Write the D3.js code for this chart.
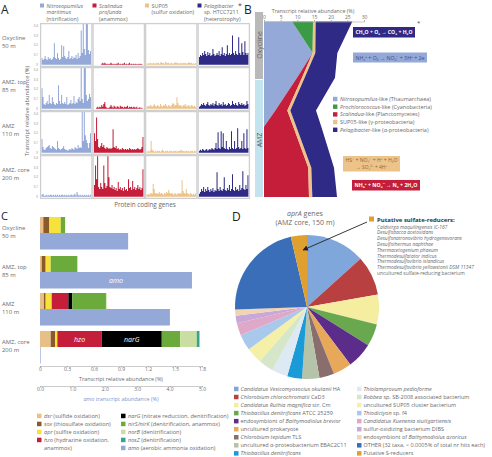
<!DOCTYPE html>
<html><head><meta charset="utf-8">
<script src="https://cdn.jsdelivr.net/npm/d3@7"></script>
<style>body{margin:0;background:#fff}svg{display:block}text{font-family:"Open Sans",sans-serif}</style>
</head><body><svg id="c" width="492" height="457"></svg>
<script>
// ---------------- DATA ----------------
// Panel A
const aSpecies = ["Nitrosopumilus", "Scalindua", "SUP05", "Pelagibacter"];
const aHeaders = [
  ["Nitrosopumilus", "maritimus", "(nitrification)"],
  ["Scalindua", "profunda", "(anammox)"],
  ["SUP05", "(sulfur oxidation)"],
  ["Pelagibacter", "sp. HTCC7211", "(heterotrophy)"]
];
const aDepths = [["Oxycline", "50 m"], ["AMZ, top", "85 m"], ["AMZ", "110 m"], ["AMZ, core", "200 m"]];
const aTicks = [0, 0.1, 0.2, 0.3, 0.4];
const aNitro = [
  [0.07,0.05,0.06,0.09,0.06,0.05,0.08,0.06,0.07,0.05,0.06,0.08,0.22,0.07,0.06,0.12,0.07,0.05,0.06,0.2,0.08,0.19,0.09,0.07,0.06,0.08,0.14,0.06,0.07,0.09,0.06,0.08,0.07,0.1,0.06,0.12,0.07,0.09,0.35,0.12,0.42,0.16,0.1,0.42,0.42,0.15,0.11,0.14],
  [0.21,0.12,0.05,0.04,0.06,0.08,0.05,0.14,0.06,0.05,0.12,0.07,0.05,0.04,0.06,0.05,0.24,0.08,0.05,0.14,0.06,0.05,0.07,0.05,0.12,0.04,0.05,0.06,0.09,0.05,0.06,0.13,0.05,0.07,0.06,0.1,0.12,0.08,0.42,0.1,0.06,0.42,0.42,0.14,0.08,0.1,0.15,0.12],
  [0.14,0.06,0.03,0.03,0.05,0.06,0.07,0.08,0.05,0.04,0.07,0.06,0.05,0.04,0.03,0.12,0.05,0.04,0.03,0.04,0.05,0.07,0.04,0.03,0.03,0.02,0.03,0.04,0.03,0.05,0.04,0.03,0.06,0.05,0.04,0.08,0.05,0.06,0.05,0.42,0.12,0.44,0.18,0.13,0.1,0.05,0.1,0.2],
  [0.02,0.03,0.01,0.01,0.02,0.01,0.02,0.01,0.02,0.02,0.01,0.02,0.01,0.02,0.01,0.02,0.01,0.02,0.01,0.02,0.02,0.01,0.02,0.01,0.02,0.01,0.02,0.01,0.02,0.02,0.01,0.02,0.03,0.01,0.05,0.02,0.01,0.02,0.01,0.02,0.01,0.02,0.01,0.02,0.01,0.02,0.01,0.02]
];
const aScal = [
  [0,0,0,0,0,0,0,0.01,0.02,0.01,0.02,0.01,0.005,0.01,0.005,0.01,0.02,0.01,0.005,0.01,0.005,0.01,0.01,0.02,0.005,0.01,0.005,0.01,0.01,0.02,0.005,0.01,0.005,0.01,0.02,0.005,0.01,0.005,0.01,0.005,0.01,0.005,0.005,0.01,0.005,0.01,0.005,0],
  [0,0,0.01,0.02,0.01,0.02,0.015,0.04,0.02,0.05,0.07,0.02,0.01,0.005,0.01,0.02,0.04,0.02,0.01,0.03,0.02,0.01,0.025,0.02,0.01,0.03,0.02,0.02,0.01,0.02,0.015,0.02,0.03,0.01,0.02,0.015,0.02,0.01,0.02,0.015,0.01,0.02,0.005,0.01,0.015,0.005,0.01,0],
  [0.2,0.12,0.36,0.14,0.06,0.05,0.07,0.1,0.06,0.08,0.05,0.04,0.06,0.05,0.04,0.05,0.04,0.05,0.24,0.06,0.05,0.07,0.04,0.05,0.03,0.04,0.03,0.05,0.04,0.03,0.04,0.03,0.04,0.03,0.05,0.04,0.03,0.04,0.03,0.04,0.03,0.04,0.05,0.04,0.03,0.04,0.06,0.16],
  [0.12,0.32,0.18,0.42,0.1,0.08,0.14,0.1,0.08,0.32,0.14,0.09,0.11,0.42,0.2,0.1,0.09,0.12,0.08,0.1,0.07,0.09,0.06,0.15,0.08,0.1,0.07,0.09,0.06,0.1,0.07,0.08,0.06,0.18,0.09,0.1,0.07,0.16,0.08,0.1,0.07,0.09,0.12,0.08,0.1,0.07,0.09,0.28]
];
const aSup05 = [
  [0.01,0.015,0.01,0.02,0.015,0.01,0.02,0.015,0.01,0.02,0.015,0.02,0.01,0.02,0.025,0.015,0.02,0.01,0.03,0.02,0.015,0.02,0.01,0.015,0.02,0.01,0.015,0.02,0.025,0.015,0.02,0.01,0.015,0.02,0.01,0.02,0.015,0.02,0.01,0.015,0.02,0.025,0.015,0.02,0.01,0.015,0.01,0.015],
  [0.02,0.03,0.02,0.04,0.03,0.02,0.03,0.05,0.03,0.02,0.04,0.03,0.02,0.05,0.03,0.02,0.04,0.03,0.05,0.03,0.02,0.04,0.03,0.02,0.04,0.06,0.05,0.03,0.04,0.12,0.06,0.03,0.04,0.03,0.02,0.04,0.03,0.05,0.03,0.02,0.04,0.03,0.02,0.04,0.03,0.02,0.03,0.02],
  [0.01,0.02,0.01,0.02,0.12,0.03,0.02,0.01,0.02,0.01,0.02,0.015,0.02,0.01,0.02,0.03,0.02,0.01,0.02,0.015,0.02,0.01,0.02,0.015,0.02,0.01,0.02,0.015,0.02,0.01,0.02,0.015,0.02,0.03,0.02,0.015,0.02,0.01,0.02,0.015,0.02,0.01,0.02,0.015,0.02,0.01,0.02,0.015],
  [0.02,0.03,0.02,0.03,0.04,0.03,0.13,0.08,0.04,0.03,0.04,0.03,0.05,0.03,0.04,0.03,0.02,0.04,0.03,0.05,0.04,0.07,0.04,0.03,0.04,0.03,0.02,0.04,0.03,0.02,0.04,0.03,0.04,0.03,0.17,0.06,0.04,0.03,0.08,0.04,0.03,0.02,0.04,0.03,0.02,0.03,0.02,0.03]
];
const aPelag = [
  [0.08,0.1,0.09,0.12,0.1,0.14,0.11,0.09,0.13,0.1,0.12,0.09,0.1,0.16,0.11,0.09,0.1,0.12,0.1,0.14,0.09,0.11,0.18,0.1,0.12,0.09,0.11,0.2,0.1,0.12,0.1,0.11,0.3,0.12,0.1,0.14,0.11,0.1,0.28,0.12,0.1,0.22,0.13,0.1,0.24,0.12,0.1,0.12],
  [0.02,0.03,0.05,0.04,0.06,0.04,0.03,0.05,0.07,0.04,0.03,0.05,0.04,0.06,0.03,0.05,0.08,0.04,0.03,0.06,0.04,0.05,0.03,0.07,0.04,0.05,0.03,0.04,0.06,0.05,0.03,0.04,0.08,0.05,0.04,0.06,0.04,0.03,0.07,0.05,0.04,0.06,0.04,0.05,0.03,0.04,0.08,0.05],
  [0.02,0.03,0.02,0.04,0.03,0.02,0.03,0.04,0.02,0.03,0.04,0.03,0.05,0.04,0.03,0.05,0.1,0.04,0.21,0.05,0.04,0.22,0.06,0.2,0.05,0.04,0.12,0.04,0.03,0.06,0.04,0.22,0.05,0.04,0.12,0.04,0.05,0.25,0.06,0.04,0.05,0.12,0.04,0.2,0.05,0.04,0.24,0.05],
  [0.03,0.05,0.08,0.06,0.1,0.05,0.08,0.06,0.1,0.07,0.05,0.08,0.06,0.09,0.05,0.07,0.06,0.25,0.08,0.06,0.1,0.07,0.06,0.08,0.2,0.07,0.06,0.09,0.07,0.12,0.06,0.08,0.23,0.07,0.06,0.1,0.07,0.08,0.06,0.12,0.07,0.09,0.26,0.08,0.07,0.12,0.08,0.22]
];

// Panel B (stacked profile, % transcripts at depth in m)
const bDepth  = [50, 77, 98, 126, 140, 175, 200];
const bNitro  = [8.4, 14.6, 9.9, 3.4, 0, 0, 0];
const bProchl = [6.3, 0, 0, 0, 0, 0, 0];
const bScal   = [0, 0, 1.5, 3.6, 8.8, 13.3, 13.5];
const bSup05  = [0.8, 0.8, 0.8, 0.9, 0.9, 0.9, 1.0];
const bPelag  = [11.0, 6.6, 9.1, 7.7, 7.5, 6.8, 7.4];
const bTicks  = [0, 5, 10, 15, 20, 25, 30];
const bLegend = [["Nitrosopumilus", "-like (Thaumarchaea)"], ["Prochlorococcus", "-like (Cyanobacteria)"], ["Scalindua", "-like (Planctomycetes)"], ["SUP05", "-like (γ-proteobacteria)"], ["Pelagibacter", "-like (α-proteobacteria)"]];

// Panel C (gene transcripts, %)
const cDepths = [["Oxycline", "50 m"], ["AMZ, top", "85 m"], ["AMZ", "110 m"], ["AMZ, core", "200 m"]];
const cGenes = ["dsr", "sox", "apr", "hzo", "narG", "nirS/nirK", "norB", "nosZ"];
const cDsr  = [0.037, 0.019, 0.044, 0.119];
const cSox  = [0.067, 0.044, 0.019, 0.048];
const cApr  = [0.127, 0.056, 0.067, 0.026];
const cHzo  = [0, 0, 0.185, 0.493];
const cNarG = [0, 0, 0.044, 0.667];
const cNir  = [0.048, 0.296, 0.374, 0.204];
const cNorB = [0, 0, 0.008, 0.185];
const cNosZ = [0, 0, 0, 0.03];
const cAmo  = [2.72, 4.69, 4.01, 0.02];
const cTicks = [0, 0.3, 0.6, 0.9, 1.2, 1.5, 1.8];
const cAmoTicks = [0, 1, 2, 3, 4, 5];
const cLegendLeft = [["dsr", " (sulfide oxidation)"], ["sox", " (thiosulfate oxidation)"], ["apr", " (sulfite oxidation)"], ["hzo", " (hydrazine oxidation,", "anammox)"]];
const cLegendRight = [["narG", " (nitrate reduction, denitrification)"], ["nirS/nirK", " (denitrification, anammox)"], ["norB", " (denitrification)"], ["nosZ", " (denitrification)"], ["amo", " (aerobic ammonia oxidation)"]];

// Panel D (aprA genes, share of hits, read as degrees of the pie)
const dTaxa = [
  "Candidatus Vesicomyosocius okutanii HA", "Chlorobium chlorochromatii CaD3", "Candidatus Ruthia magnifica str. Cm",
  "Thiobacillus denitrificans ATCC 25259", "endosymbiont of Bathymodiolus brevior", "uncultured prokaryote",
  "Chlorobium tepidum TLS", "uncultured α-proteobacterium EBAC2C11", "Thiobacillus denitrificans",
  "Thiolamprovum pedioforme", "Robbea sp. SB-2008 associated bacterium", "uncultured SUP05 cluster bacterium",
  "Thiodictyon sp. f4", "Candidatus Kuenenia stuttgartiensis", "sulfur-oxidizing bacterium DIBS",
  "endosymbiont of Bathymodiolus azoricus", "OTHER (32 taxa, < 0.0005% of total nr hits each)", "Putative S-reducers"
];
const dShare = [48, 32, 24, 18, 21, 15, 12, 14, 12, 13, 12, 13, 13, 10, 6, 5, 79, 13];
const dReducers = ["Caldivirga maquilingensis IC-167", "Desulfobacca acetoxidans", "Desulfonatronovibrio hydrogenovorans",
  "Desulfothermus naphthae", "Thermacetogenium phaeum", "Thermodesulfatator indicus", "Thermodesulfovibrio islandicus",
  "Thermodesulfovibrio yellowstonii DSM 11347", "uncultured sulfate-reducing bacterium"];

// ---------------- DRAW ----------------
const svg = d3.select("#c");
const TXT = "#6a6a6a";
const colA = ["#94a9d8", "#c41e3a", "#edc38a", "#2e2a85"];
const italicWords = new Set(["Candidatus","Vesicomyosocius","okutanii","Chlorobium","chlorochromatii","Ruthia","magnifica","Thiobacillus","denitrificans","Bathymodiolus","brevior","tepidum","azoricus","Thiolamprovum","pedioforme","Robbea","Thiodictyon","Kuenenia","stuttgartiensis"]);
function rich(t, s) {
  s.split(" ").forEach((w, i) => {
    t.append("tspan").attr("font-style", italicWords.has(w) ? "italic" : "normal").text((i ? " " : "") + w);
  });
}
function label(x, y, s, size, opts = {}) {
  return svg.append("text").attr("x", x).attr("y", y).attr("font-size", size)
    .attr("fill", opts.fill || TXT).attr("text-anchor", opts.anchor || "start")
    .attr("font-style", opts.italic ? "italic" : "normal").attr("font-weight", opts.bold ? "bold" : "normal").text(s);
}
// Panel letters
[["A", 1, 14, 12], ["B", 244, 14, 12], ["C", 1, 219.5, 11], ["D", 232, 221, 12]].forEach(([s, x, y, fs]) => label(x, y, s, fs, {fill: "#222"}));

// ---- Panel A ----
const colBand = d3.scaleBand().domain(aSpecies).range([40, 250]);
const rowBand = d3.scaleBand().domain(aDepths.map(d => d[0])).range([23, 199]);
const aData = [aNitro, aScal, aSup05, aPelag];
const bw = colBand.bandwidth(), bh = rowBand.bandwidth();
const xg = d3.scaleLinear().domain([0, 48]).range([1.5, bw - 1.5]);
const yg = d3.scaleLinear().domain([0, 0.4]).range([bh - 2.2, 2.6]);
const defs = svg.append("defs");
defs.append("clipPath").attr("id", "cellclip").append("rect").attr("x", 0).attr("y", 0).attr("width", bw).attr("height", bh);
aSpecies.forEach((sp, ci) => {
  aDepths.forEach((dp, ri) => {
    const g = svg.append("g").attr("transform", `translate(${colBand(sp)},${rowBand(dp[0])})`);
    const vals = aData[ci][ri].concat([aData[ci][ri][47]]);
    const area = d3.area().curve(d3.curveStepAfter).x((d, i) => xg(i)).y0(yg(0)).y1(d => yg(d));
    g.append("path").attr("d", area(vals)).attr("fill", colA[ci]).attr("clip-path", "url(#cellclip)");
    g.append("rect").attr("x", 0.6).attr("y", 0.6).attr("width", bw - 1.2).attr("height", bh - 1.2)
      .attr("fill", "none").attr("stroke", "#cfcfcf").attr("stroke-width", 1.3);
    if (ci === 0) {
      aTicks.forEach(t => {
        g.append("text").attr("x", -2).attr("y", yg(t) + 1.1).attr("font-size", 3.1).attr("fill", "#888")
          .attr("text-anchor", "end").text(t);
      });
    }
  });
});
// headers A
aHeaders.forEach((lines, ci) => {
  const x = colBand(aSpecies[ci]);
  svg.append("rect").attr("x", x).attr("y", 3.5).attr("width", 4).attr("height", 4).attr("fill", colA[ci]);
  lines.forEach((l, li) => {
    const ital = (li === 0 && ci !== 2) || (li === 1 && ci === 0) || (li === 1 && ci === 1);
    label(x + 6.5, 7.8 + li * 6.5, l, 5.4, {italic: ital});
  });
});
label(238, 8, "*", 7, {fill: "#444"});
// row labels
aDepths.forEach((d, ri) => {
  const y = rowBand(d[0]);
  label(2, y + 16.5, d[0], 5.9);
  label(2, y + 24.5, d[1], 5.9);
});
svg.append("text").attr("transform", "translate(29,111) rotate(-90)").attr("text-anchor", "middle")
  .attr("font-size", 5.8).attr("fill", TXT).text("Transcript relative abundance (%)");
label(145, 207, "Protein coding genes", 6.3, {anchor: "middle"});

// ---- Panel B ----
const xB = d3.scaleLinear().domain([0, 30]).range([264, 364]);
const yB = d3.scaleLinear().domain([50, 200]).range([21.5, 197]);
const bKeys = ["nitro", "prochl", "scal", "sup05", "pelag"];
const bCols = ["#94a9d8", "#3a9a45", "#c41e3a", "#edc38a", "#2e2a85"];
const bRows = bDepth.map((d, i) => ({depth: d, nitro: bNitro[i], prochl: bProchl[i], scal: bScal[i], sup05: bSup05[i], pelag: bPelag[i]}));
const bStack = d3.stack().keys(bKeys)(bRows);
const bArea = d3.area().y(d => yB(d.data.depth)).x0(d => xB(d[0])).x1(d => xB(d[1]));
svg.append("g").selectAll("path").data(bStack).join("path").attr("d", bArea).attr("fill", (d, i) => bCols[i]);
// depth strip
svg.append("rect").attr("x", 255).attr("y", 12).attr("width", 8).attr("height", 67).attr("fill", "#b9b9b9");
svg.append("rect").attr("x", 255).attr("y", 80).attr("width", 8).attr("height", 117).attr("fill", "#c3e4ee");
svg.append("text").attr("transform", "translate(261.5,45) rotate(-90)").attr("text-anchor", "middle")
  .attr("font-size", 7).attr("fill", "#666").text("Oxycline");
svg.append("text").attr("transform", "translate(261.5,140) rotate(-90)").attr("text-anchor", "middle")
  .attr("font-size", 7).attr("fill", "#555").text("AMZ");
// axis B
const axB = svg.append("g").attr("transform", "translate(0,21.5)").call(d3.axisTop(xB).tickValues(bTicks).tickSize(1.5).tickPadding(0.8));
axB.select(".domain").attr("stroke", "#aaa").attr("stroke-width", 0.6);
axB.selectAll(".tick line").attr("stroke", "#aaa");
axB.selectAll("text").attr("font-size", 5).attr("fill", TXT).attr("font-family", "Open Sans");
label(313, 13, "Transcript relative abundance (%)", 5.3, {anchor: "middle"});
// legend B
bLegend.forEach((l, i) => {
  const y = 99 + i * 7.7;
  svg.append("rect").attr("x", 333).attr("y", y - 2.2).attr("width", 4.4).attr("height", 4.4).attr("fill", bCols[i]);
  const t = label(340, y + 2, "", 5.5);
  t.append("tspan").attr("font-style", i === 3 ? "normal" : "italic").text(l[0]);
  t.append("tspan").text(l[1]);
});
// equation boxes
function eqBox(x, y, w, h, fill, lines, tcol, bold) {
  svg.append("rect").attr("x", x).attr("y", y).attr("width", w).attr("height", h).attr("fill", fill);
  lines.forEach((l, i) => {
    const fs = lines.length > 1 ? 5 : 5.6;
    svg.append("text").attr("x", x + w / 2).attr("y", y + (h / lines.length) * (i + 0.5) + fs * 0.36)
      .attr("text-anchor", "middle").attr("font-size", fs).attr("fill", tcol)
      .attr("font-weight", bold ? "bold" : "normal").attr("font-family", "DejaVu Sans")
      .attr("textLength", (w - 5) * (i === 1 ? 0.6 : 1)).attr("lengthAdjust", "spacingAndGlyphs").text(l);
  });
}
eqBox(353, 27, 62, 10.5, "#2e2a85", ["CH₂O + O₂ → CO₂ + H₂O"], "#fff", true);
label(417, 25, "*", 6, {fill: "#444"});
eqBox(353, 52.5, 74, 10, "#94a9d8", ["NH₄⁺ + O₂ → NO₂⁻ + 3H⁺ + 2e"], "#3d4f8a", false);
eqBox(343, 156, 57, 15.5, "#edc38a", ["HS⁻ + NO₃⁻ + H⁺ + H₂O", "→ SO₄²⁻ + 4H⁺"], "#8a6a3a", false);
eqBox(352, 180, 68, 10.5, "#c41e3a", ["NH₄⁺ + NO₂⁻ → N₂ + 2H₂O"], "#fff", true);

// ---- Panel C ----
const xC = d3.scaleLinear().domain([0, 1.8]).range([40, 202]);
const xAmo = d3.scaleLinear().domain([0, 5]).range([40, 202]);
const cCols = ["#e8bf87", "#8b5a2b", "#f5e33c", "#c41e3a", "#000000", "#6aab3c", "#c9dea0", "#3aa38f"];
const cRows = cDepths.map((d, i) => ({dep: d[0], dsr: cDsr[i], sox: cSox[i], apr: cApr[i], hzo: cHzo[i], narG: cNarG[i], "nirS/nirK": cNir[i], norB: cNorB[i], nosZ: cNosZ[i]}));
const cStack = d3.stack().keys(cGenes)(cRows);
const stackH = 16, amoH = 16.5;
const barTop = [217, 256, 293, 331];
cStack.forEach((layer, gi) => {
  layer.forEach((d, ri) => {
    if (d[1] - d[0] <= 0) return;
    svg.append("rect").attr("x", xC(d[0])).attr("y", barTop[ri]).attr("width", xC(d[1]) - xC(d[0])).attr("height", stackH).attr("fill", cCols[gi]);
  });
});
cAmo.forEach((v, ri) => {
  svg.append("rect").attr("x", xAmo(0)).attr("y", barTop[ri] + stackH).attr("width", Math.max(0.6, xAmo(v) - xAmo(0))).attr("height", amoH).attr("fill", "#94a9d8");
});
// in-bar labels
const coreS = cStack[3][3], narS = cStack[4][3];
label((xC(coreS[0]) + xC(coreS[1])) / 2, barTop[3] + 10.5, "hzo", 7, {anchor: "middle", italic: true, fill: "#fff"});
label((xC(narS[0]) + xC(narS[1])) / 2, barTop[3] + 10.5, "narG", 7, {anchor: "middle", italic: true, fill: "#fff"});
label((xAmo(0) + xAmo(cAmo[1])) / 2, barTop[1] + stackH + 11, "amo", 7, {anchor: "middle", italic: true, fill: "#fff"});
// depth labels
cDepths.forEach((d, ri) => {
  label(2, barTop[ri] + 13, d[0], 5.9);
  label(2, barTop[ri] + 21, d[1], 5.9);
});
// axes C
function styleAxis(ax) {
  ax.select(".domain").attr("stroke", "#aaa").attr("stroke-width", 0.6);
  ax.selectAll(".tick line").attr("stroke", "#aaa");
  ax.selectAll("text").attr("font-size", 5).attr("fill", TXT).attr("font-family", "Open Sans");
}
styleAxis(svg.append("g").attr("transform", "translate(0,366)").call(d3.axisBottom(xC).tickValues(cTicks).tickSize(1.2).tickPadding(0.6).tickFormat(d3.format(""))));
label(121, 381, "Transcript relative abundance (%)", 5.4, {anchor: "middle"});
styleAxis(svg.append("g").attr("transform", "translate(0,386)").call(d3.axisBottom(xAmo).tickValues(cAmoTicks).tickSize(1.2).tickPadding(0.6)));
const amoT = label(121, 401, "", 5.4, {anchor: "middle", fill: "#7f93c8"});
amoT.append("tspan").attr("font-style", "italic").text("amo");
amoT.append("tspan").text(" transcript abundance (%)");
// legend C
cLegendLeft.forEach((l, i) => {
  const y = 416 + i * 8;
  svg.append("rect").attr("x", 37).attr("y", y - 2.3).attr("width", 4.5).attr("height", 4.5).attr("fill", cCols[i]);
  const t = label(44, y + 2, "", 5.6);
  t.append("tspan").attr("font-style", "italic").text(l[0]);
  t.append("tspan").text(l[1]);
  if (l[2]) label(44, y + 9.6, l[2], 5.6);
});
const rightCols = [cCols[4], cCols[5], cCols[6], cCols[7], "#94a9d8"];
cLegendRight.forEach((l, i) => {
  const y = 416 + i * 8;
  svg.append("rect").attr("x", 121).attr("y", y - 2.3).attr("width", 4.5).attr("height", 4.5).attr("fill", rightCols[i]);
  const t = label(128, y + 2, "", 5.6);
  t.append("tspan").attr("font-style", "italic").text(l[0]);
  t.append("tspan").text(l[1]);
});

// ---- Panel D ----
const dCols = ["#7fa7dc", "#b84040", "#f5eda0", "#6aa84f", "#5b2c8a", "#e8a85a", "#8a6e6e", "#b5c4a8", "#1a9ad6",
  "#dde9f3", "#d6e6c8", "#f5f0a8", "#a8c8ec", "#e0a8c8", "#c8a8d8", "#f0d4b4", "#3a6eb8", "#e0a030"];
const pie = d3.pie().sort(null).value(d => d)(dShare);
const arc = d3.arc().innerRadius(0).outerRadius(72);
svg.append("g").attr("transform", "translate(307,307)").selectAll("path").data(pie).join("path")
  .attr("d", arc).attr("fill", (d, i) => dCols[i]);
const tD = label(305, 216, "", 7, {anchor: "middle"});
tD.append("tspan").attr("font-style", "italic").text("aprA");
tD.append("tspan").text(" genes");
label(305, 225, "(AMZ core, 150 m)", 7, {anchor: "middle"});
// annotation
svg.append("rect").attr("x", 369).attr("y", 216.5).attr("width", 5).attr("height", 5).attr("fill", "#e0a030");
label(377, 221.5, "Putative sulfate-reducers:", 6, {bold: true, fill: "#333"});
dReducers.forEach((r, i) => label(377, 228.5 + i * 5.8, r, 4.9, {italic: i < dReducers.length - 1}));
defs.append("marker").attr("id", "arr").attr("viewBox", "0 0 10 10").attr("refX", 9).attr("refY", 5)
  .attr("markerWidth", 6).attr("markerHeight", 6).attr("orient", "auto")
  .append("path").attr("d", "M0,0 L10,5 L0,10 z").attr("fill", "#222");
svg.append("line").attr("x1", 367).attr("y1", 222).attr("x2", 303).attr("y2", 250)
  .attr("stroke", "#222").attr("stroke-width", 0.9).attr("marker-end", "url(#arr)");
// legend D
dTaxa.forEach((n, i) => {
  const col = i < 9 ? 0 : 1, row = i % 9;
  const x = col ? 357 : 234, y = 389 + row * 8.05;
  svg.append("rect").attr("x", x).attr("y", y - 2.3).attr("width", 4.5).attr("height", 4.5).attr("fill", dCols[i]);
  const t = label(x + 6.5, y + 2, "", 5.5);
  rich(t, n);
});
</script></body></html>
